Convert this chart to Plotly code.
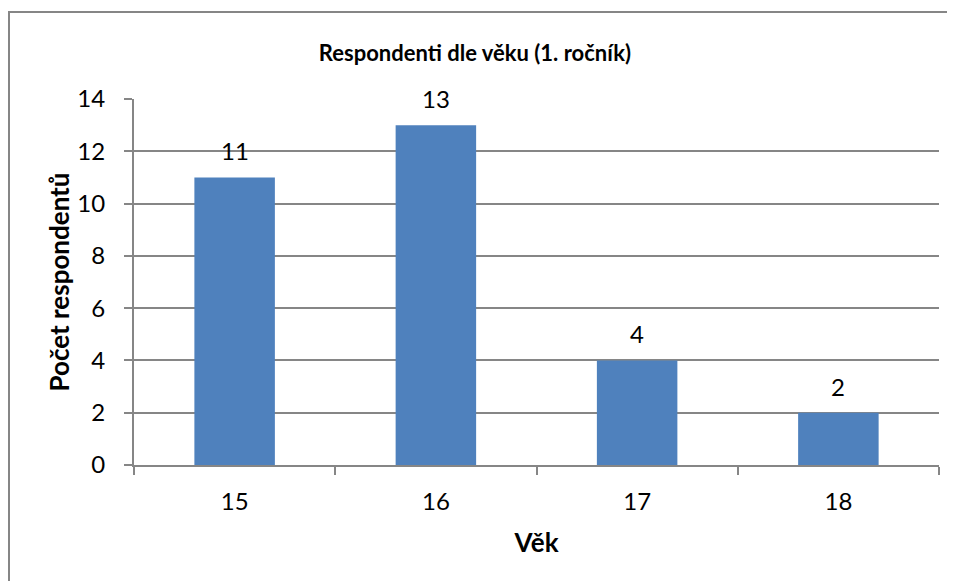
import plotly.graph_objects as go

# Respondenti dle věku
vek = ["15", "16", "17", "18"]
pocet = [11, 13, 4, 2]
y_ticks = [0, 2, 4, 6, 8, 10, 12, 14]

# stránka má okraj 8 px, proto je vše posunuté
W, H = 955, 581
L, R, T, B = 126, 24, 91, 124
pw, ph = W - L - R, H - T - B

font = dict(family="Lato, Open Sans, sans-serif", size=22, color="black")
num_font = dict(family="Lato, Open Sans, sans-serif", size=24, color="black")
grid = "#868686"

fig = go.Figure(go.Bar(x=vek, y=pocet, marker_color="#4F81BD", marker_line_width=0, width=0.4))

# hodnoty nad sloupci
for i, v in enumerate(pocet):
    fig.add_annotation(x=i, y=v, xref="x", yref="y", text=str(v), showarrow=False,
                       yanchor="bottom", yshift=10, font=num_font)

# rámeček grafu
fig.add_shape(type="rect", xref="paper", yref="paper",
              x0=(1 - L) / pw, x1=1 + (R + 30) / pw,
              y0=-(B + 30) / ph, y1=1 + (T - 4) / ph,
              line=dict(color="#868686", width=2), fillcolor="rgba(0,0,0,0)", layer="below")

fig.update_layout(
    width=W, height=H,
    margin=dict(l=L, r=R, t=T, b=B),
    plot_bgcolor="white", paper_bgcolor="white",
    font=font, showlegend=False,
    title=dict(text="<b>Respondenti dle věku (1. ročník)</b>", x=467 / W, xref="container",
               xanchor="center", y=1 - 45 / H, yanchor="middle", font=dict(size=22)),
)
fig.update_xaxes(title=dict(text="<b>Věk</b>", standoff=20), type="category",
                 showline=True, linecolor=grid, linewidth=2, ticks="outside",
                 tickson="boundaries", ticklen=8, tickcolor=grid, tickwidth=2,
                 tickfont=num_font, ticklabelstandoff=14, showgrid=False,
                 range=[-0.5, 3.5])
fig.update_yaxes(title=dict(text="<b>Počet respondentů</b>", standoff=0), range=[0, 14],
                 tickvals=y_ticks, showline=True, linecolor=grid, linewidth=2,
                 ticks="outside", ticklen=8, tickcolor=grid, tickwidth=2,
                 tickfont=num_font, ticklabelstandoff=14, showgrid=True,
                 gridcolor=grid, gridwidth=1.5, zeroline=False)

fig.write_html("out.html")
